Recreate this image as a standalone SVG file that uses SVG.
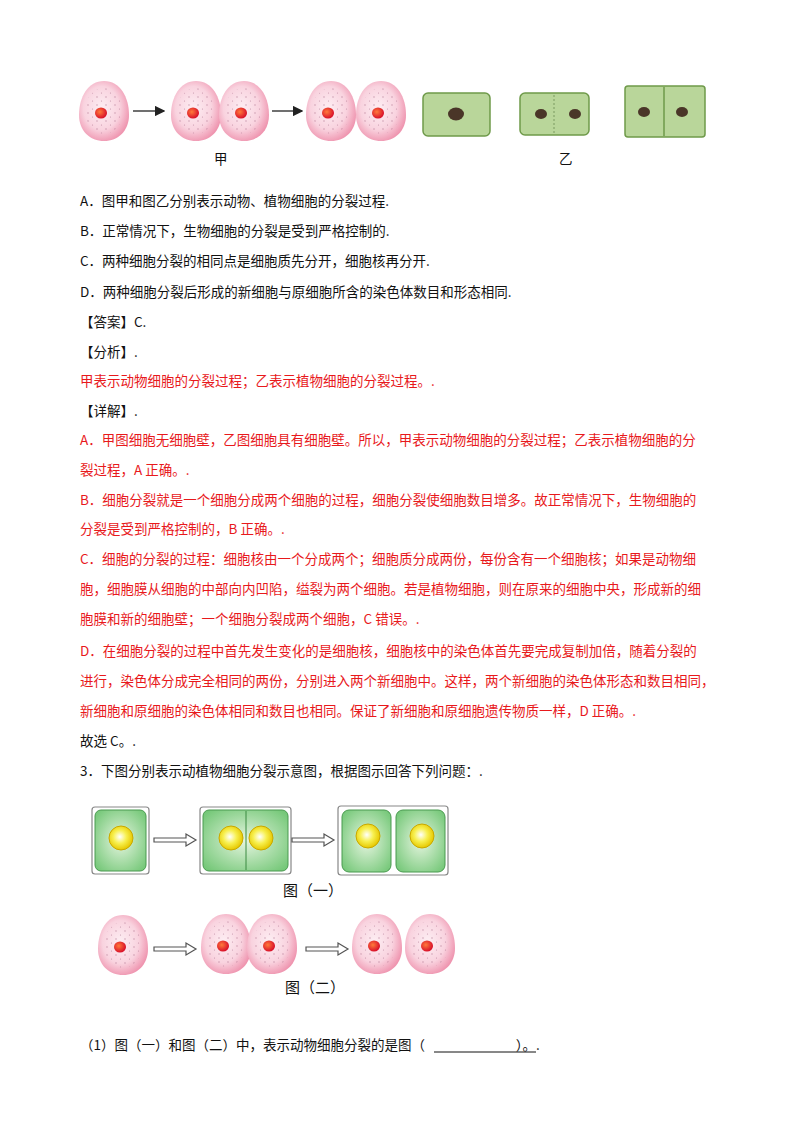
<svg xmlns="http://www.w3.org/2000/svg" width="800" height="1132" viewBox="0 0 800 1132">
<defs>
<radialGradient id="pk" cx="0.45" cy="0.45" r="0.6"><stop offset="0" stop-color="#fdeef3"/><stop offset="0.6" stop-color="#f9d3df"/><stop offset="1" stop-color="#ee8fab"/></radialGradient>
<radialGradient id="nu" cx="0.4" cy="0.4" r="0.6"><stop offset="0" stop-color="#ff7a3a"/><stop offset="1" stop-color="#d9102a"/></radialGradient>
<radialGradient id="gr" cx="0.5" cy="0.5" r="0.7"><stop offset="0" stop-color="#e6f5e0"/><stop offset="1" stop-color="#6cc470"/></radialGradient>
<radialGradient id="yl" cx="0.45" cy="0.45" r="0.55"><stop offset="0" stop-color="#ffffff"/><stop offset="0.5" stop-color="#f7f050"/><stop offset="1" stop-color="#e6c800"/></radialGradient>
<pattern id="dots" width="9" height="8" patternUnits="userSpaceOnUse"><circle cx="2" cy="2" r="0.7" fill="#a06080"/><circle cx="6.5" cy="6" r="0.6" fill="#a06080"/></pattern>
<g id="ac"><path d="M0,-30 C16,-30 25,-14 25,4 C25,20 14,30 0,30 C-14,30 -25,20 -25,4 C-25,-14 -16,-30 0,-30z" fill="url(#pk)"/><ellipse rx="19" ry="23" fill="url(#dots)" opacity="0.6"/><ellipse cx="-3" cy="2" rx="6" ry="5.5" fill="url(#nu)"/></g>
<marker id="ah" markerWidth="8" markerHeight="8" refX="7" refY="4" orient="auto"><path d="M0,0 L8,4 L0,8z" fill="#222"/></marker>
</defs>
<style>
text{font-family:"Noto Sans CJK SC","Liberation Sans",sans-serif;font-size:13.5px;fill:#111}
.r{fill:#e8191c}
.pc{fill:#b9d69a;stroke:#6f9a4a;stroke-width:1.5}
.wall{fill:none;stroke:#888;stroke-width:1.2}
.oa{fill:#fff;stroke:#555;stroke-width:1.2}
</style>
<g id="top-animal">
<use href="#ac" x="104" y="111"/>
<line x1="133" y1="111" x2="164" y2="111" stroke="#222" stroke-width="1.3" marker-end="url(#ah)"/>
<use href="#ac" x="196" y="111"/><use href="#ac" x="244" y="111"/>
<line x1="272" y1="111" x2="302" y2="111" stroke="#222" stroke-width="1.3" marker-end="url(#ah)"/>
<use href="#ac" x="331" y="111"/><use href="#ac" x="381" y="111"/>
</g>
<g id="top-plant">
<rect class="pc" x="423" y="93" width="67" height="43" rx="5"/><ellipse cx="456" cy="114" rx="8" ry="6.5" fill="#4a3628"/>
<rect class="pc" x="520" y="93" width="69" height="42" rx="5"/><line x1="554" y1="95" x2="554" y2="133" stroke="#7a9a60" stroke-dasharray="2 2"/>
<ellipse cx="541" cy="114" rx="6" ry="5" fill="#4a3628"/><ellipse cx="575" cy="114" rx="6" ry="5" fill="#4a3628"/>
<rect class="pc" x="625" y="86" width="80" height="51" rx="3"/><line x1="664" y1="87" x2="664" y2="136" stroke="#6f9a4a" stroke-width="1.5"/>
<ellipse cx="644" cy="112" rx="6" ry="5" fill="#4a3628"/><ellipse cx="682" cy="112" rx="6" ry="5" fill="#4a3628"/>
</g>
<text x="214" y="164">甲</text><text x="559" y="164">乙</text>
<text x="80" y="206">A．图甲和图乙分别表示动物、植物细胞的分裂过程.</text>
<text x="80" y="236">B．正常情况下，生物细胞的分裂是受到严格控制的.</text>
<text x="80" y="266">C．两种细胞分裂的相同点是细胞质先分开，细胞核再分开.</text>
<text x="80" y="297">D．两种细胞分裂后形成的新细胞与原细胞所含的染色体数目和形态相同.</text>
<text x="80" y="327">【答案】C.</text>
<text x="80" y="357">【分析】.</text>
<text class="r" x="80" y="386">甲表示动物细胞的分裂过程；乙表示植物细胞的分裂过程。.</text>
<text x="80" y="416">【详解】.</text>
<text class="r" x="80" y="445">A．甲图细胞无细胞壁，乙图细胞具有细胞壁。所以，甲表示动物细胞的分裂过程；乙表示植物细胞的分</text>
<text class="r" x="80" y="475">裂过程，A 正确。.</text>
<text class="r" x="80" y="505">B．细胞分裂就是一个细胞分成两个细胞的过程，细胞分裂使细胞数目增多。故正常情况下，生物细胞的</text>
<text class="r" x="80" y="534">分裂是受到严格控制的，B 正确。.</text>
<text class="r" x="80" y="564">C．细胞的分裂的过程：细胞核由一个分成两个；细胞质分成两份，每份含有一个细胞核；如果是动物细</text>
<text class="r" x="80" y="594">胞，细胞膜从细胞的中部向内凹陷，缢裂为两个细胞。若是植物细胞，则在原来的细胞中央，形成新的细</text>
<text class="r" x="80" y="624">胞膜和新的细胞壁；一个细胞分裂成两个细胞，C 错误。.</text>
<text class="r" x="80" y="656">D．在细胞分裂的过程中首先发生变化的是细胞核，细胞核中的染色体首先要完成复制加倍，随着分裂的</text>
<text class="r" x="80" y="686">进行，染色体分成完全相同的两份，分别进入两个新细胞中。这样，两个新细胞的染色体形态和数目相同，</text>
<text class="r" x="80" y="716">新细胞和原细胞的染色体相同和数目也相同。保证了新细胞和原细胞遗传物质一样，D 正确。.</text>
<text x="80" y="746">故选 C。.</text>
<text x="80" y="776">3．下图分别表示动植物细胞分裂示意图，根据图示回答下列问题：.</text>
<g id="fig1">
<rect class="wall" x="92" y="807" width="57" height="67" rx="3"/>
<rect x="95" y="810" width="51" height="61" rx="6" fill="url(#gr)" stroke="#4a9a50"/>
<circle cx="121" cy="838" r="12" fill="url(#yl)" stroke="#c8a800"/>
<path class="oa" d="M154,838 h32 v-4 l10,6 l-10,6 v-4 h-32z"/>
<rect class="wall" x="200" y="807" width="91" height="67" rx="3"/>
<rect x="203" y="810" width="85" height="61" rx="6" fill="url(#gr)" stroke="#4a9a50"/>
<line x1="246" y1="811" x2="246" y2="870" stroke="#3a8a40"/>
<circle cx="231" cy="838" r="12" fill="url(#yl)" stroke="#c8a800"/><circle cx="261" cy="838" r="12" fill="url(#yl)" stroke="#c8a800"/>
<path class="oa" d="M292,838 h32 v-4 l10,6 l-10,6 v-4 h-32z"/>
<rect class="wall" x="338" y="806" width="110" height="69" rx="3"/>
<rect x="342" y="810" width="49" height="62" rx="7" fill="url(#gr)" stroke="#4a9a50"/>
<rect x="396" y="810" width="49" height="62" rx="7" fill="url(#gr)" stroke="#4a9a50"/>
<circle cx="368" cy="836" r="12" fill="url(#yl)" stroke="#c8a800"/><circle cx="422" cy="836" r="12" fill="url(#yl)" stroke="#c8a800"/>
</g>
<text x="283" y="896" style="font-size:15px">图（一）</text>
<g id="fig2">
<use href="#ac" x="123" y="945"/>
<path class="oa" d="M154,947 h32 v-4 l10,6 l-10,6 v-4 h-32z"/>
<use href="#ac" x="226" y="944"/><use href="#ac" x="272" y="944"/>
<path class="oa" d="M306,947 h32 v-4 l10,6 l-10,6 v-4 h-32z"/>
<use href="#ac" x="377" y="944"/><use href="#ac" x="430" y="944"/>
</g>
<text x="285" y="993" style="font-size:15px">图（二）</text>
<text x="80" y="1050" xml:space="preserve">（1）图（一）和图（二）中，表示动物细胞分裂的是图（                              ）。.</text>
<line x1="434" y1="1052" x2="536" y2="1052" stroke="#111"/>
</svg>
